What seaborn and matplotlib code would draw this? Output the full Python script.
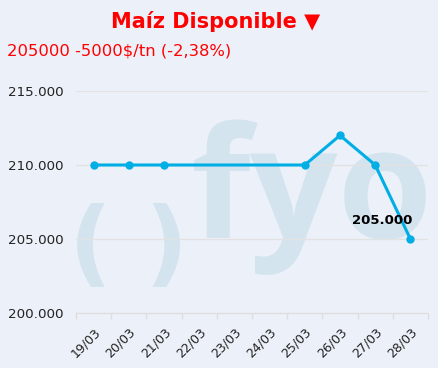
import matplotlib
matplotlib.use("Agg")
import matplotlib.pyplot as plt
import matplotlib.ticker as mticker
import seaborn as sns
import pandas as pd

# ====================================
# DADOS
# ====================================

categorias = ["19/03", "20/03", "21/03", "22/03", "23/03",
              "24/03", "25/03", "26/03", "27/03", "28/03"]

fechas = ["19/03", "20/03", "21/03", "25/03", "26/03", "27/03", "28/03"]
precios = [210000, 210000, 210000, 210000, 212000, 210000, 205000]

titulo = "Maíz Disponible ▼"
subtitulo = "205000 -5000$/tn (-2,38%)"

df = pd.DataFrame({
    "pos": [categorias.index(f) for f in fechas],
    "precio": precios
})

# ====================================
# FIGURA
# ====================================

fondo = "#ECF0F9"
azul = "#00AEE6"
marca = "#D4E4EF"

fig = plt.figure(figsize=(4.39, 3.68), dpi=100, facecolor=fondo)
ax = fig.add_axes([76 / 439, 55 / 368, 352 / 439, 222 / 368])
ax.set_facecolor("none")

W, H = 439, 368

def fx(px):
    return px / W

def fy(py):
    return 1 - py / H

# marca de agua
fig.text(fx(91), fy(249), "(", fontsize=68, fontweight="bold", color=marca,
         ha="center", va="center", zorder=-1)
fig.text(fx(166), fy(249), ")", fontsize=68, fontweight="bold", color=marca,
         ha="center", va="center", zorder=-1)
fig.text(fx(312), fy(197), "fyo", fontsize=111, fontweight="bold",
         color=marca, family="Open Sans", ha="center", va="center", zorder=-1)

# ====================================
# LINHA
# ====================================

sns.lineplot(
    data=df,
    x="pos",
    y="precio",
    ax=ax,
    color=azul,
    linewidth=2.2,
    marker="o",
    markersize=6,
    markeredgewidth=0,
    zorder=3
)

ultimo = df.iloc[-1]
ax.annotate(
    "205.000",
    (ultimo["pos"], ultimo["precio"]),
    xytext=(-28, 19),
    textcoords="offset pixels",
    ha="center",
    va="center",
    fontsize=9.5,
    fontweight="bold",
    color="black",
    zorder=4
)

# ====================================
# EIXOS
# ====================================

ax.set_xlim(-0.5, len(categorias) - 0.5)
ax.set_ylim(200000, 215000)

ax.set_xticks(range(len(categorias)))
ax.set_xticklabels(categorias, rotation=45, ha="right",
                   rotation_mode="anchor", fontsize=9, color="#222222")
ax.set_xticks([i - 0.5 for i in range(len(categorias) + 1)], minor=True)
ax.tick_params(axis="x", which="major", length=0, pad=9)
ax.tick_params(axis="x", which="minor", length=4, color="#DDDDDD", width=1)

ax.set_yticks([200000, 205000, 210000, 215000])
ax.yaxis.set_major_formatter(
    mticker.FuncFormatter(lambda v, p: f"{v:,.0f}".replace(",", "."))
)
ax.tick_params(axis="y", length=0, pad=9, labelsize=9.7, labelcolor="#222222")

ax.grid(axis="y", color="#E2E2E2", linewidth=1)
ax.set_axisbelow(True)

for lado in ["top", "right", "left"]:
    ax.spines[lado].set_visible(False)
ax.spines["bottom"].set_color("#DDDDDD")

ax.set_xlabel("")
ax.set_ylabel("")

# ====================================
# TITULOS
# ====================================

fig.text(0.492, fy(22), titulo, fontsize=15, fontweight="bold",
         color="#FF0000", ha="center", va="center")
fig.text(fx(7), fy(55), subtitulo, fontsize=11.8,
         color="#FF0000", ha="left", va="baseline")

fig.savefig("out.png", dpi=100, facecolor=fondo)
